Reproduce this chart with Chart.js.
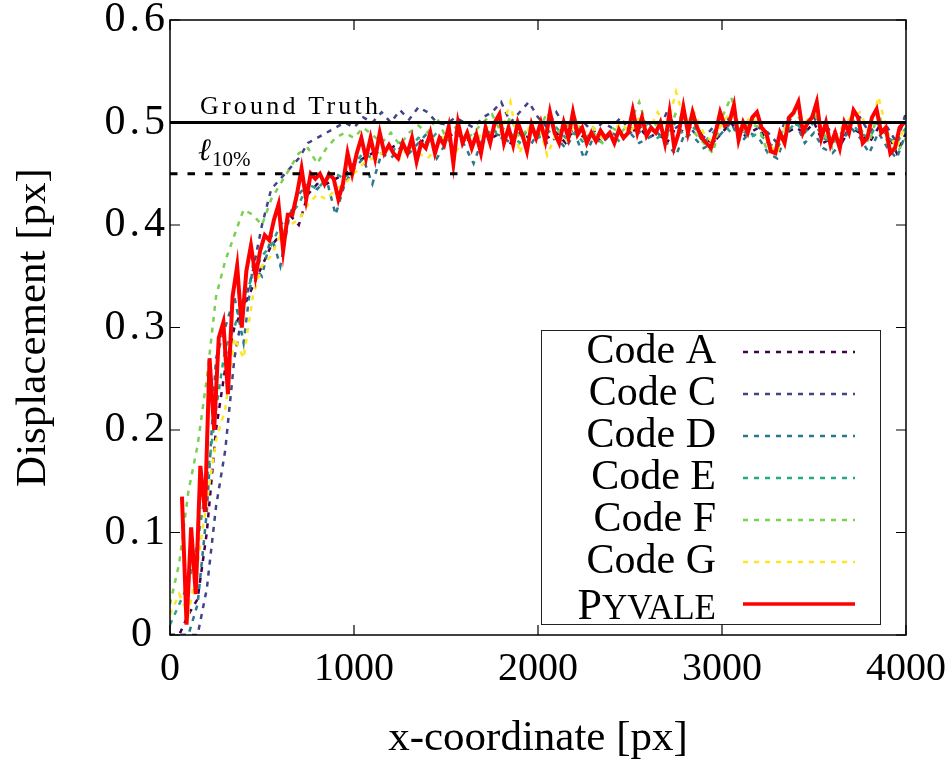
<!DOCTYPE html>
<html><head><meta charset="utf-8">
<script src="https://cdn.jsdelivr.net/npm/chart.js@4/dist/chart.umd.min.js"></script>
<style>html,body{margin:0;padding:0;background:#fff}</style>
</head><body>
<canvas id="c" width="948" height="762"></canvas>
<script>
// ---- tick values ----
const xTicks = [0, 1000, 2000, 3000, 4000];
const yTicks = [0, 0.1, 0.2, 0.3, 0.4, 0.5, 0.6];

// ---- reference levels ----
const groundTruth = 0.5;
const l10 = 0.45;

// ---- series names ----
const names = ['Code A', 'Code C', 'Code D', 'Code E', 'Code F', 'Code G', 'Pyvale'];

// ---- x sampling of the codes (0..4000, every 50 px) ----
const codeX = [
  0,50,100,150,200,250,300,350,400,450,
  500,550,600,650,700,750,800,850,900,950,
  1000,1050,1100,1150,1200,1250,1300,1350,1400,1450,
  1500,1550,1600,1650,1700,1750,1800,1850,1900,1950,
  2000,2050,2100,2150,2200,2250,2300,2350,2400,2450,
  2500,2550,2600,2650,2700,2750,2800,2850,2900,2950,
  3000,3050,3100,3150,3200,3250,3300,3350,3400,3450,
  3500,3550,3600,3650,3700,3750,3800,3850,3900,3950,
  4000];

const codeA = [
  0,0,0.02,0.035,0.1,0.2,0.26,0.3,0.32,0.34,
  0.36,0.38,0.39,0.41,0.4,0.43,0.44,0.44,0.445,0.45,
  0.46,0.465,0.47,0.47,0.475,0.48,0.475,0.48,0.485,0.48,
  0.485,0.49,0.485,0.48,0.49,0.485,0.49,0.48,0.49,0.485,
  0.49,0.485,0.49,0.48,0.495,0.485,0.49,0.48,0.49,0.485,
  0.49,0.495,0.485,0.49,0.48,0.495,0.49,0.5,0.485,0.48,
  0.49,0.5,0.485,0.49,0.495,0.48,0.475,0.49,0.495,0.49,
  0.5,0.48,0.485,0.48,0.495,0.49,0.48,0.495,0.49,0.47,
  0.49];
const codeC = [
  0,0,0,0,0.045,0.125,0.18,0.27,0.32,0.355,
  0.4,0.435,0.445,0.455,0.465,0.48,0.485,0.49,0.495,0.5,
  0.495,0.505,0.5,0.51,0.5,0.512,0.503,0.515,0.51,0.5,
  0.498,0.505,0.5,0.495,0.505,0.51,0.52,0.5,0.51,0.52,
  0.505,0.495,0.51,0.495,0.49,0.5,0.49,0.5,0.495,0.505,
  0.49,0.495,0.5,0.49,0.51,0.495,0.5,0.49,0.485,0.495,
  0.5,0.505,0.49,0.5,0.495,0.49,0.48,0.505,0.5,0.495,
  0.505,0.49,0.495,0.48,0.5,0.505,0.49,0.5,0.495,0.48,
  0.51];
const codeD = [
  0,0,0,0.03,0.12,0.27,0.3,0.33,0.285,0.36,
  0.35,0.39,0.36,0.41,0.43,0.44,0.435,0.445,0.41,0.44,
  0.455,0.465,0.44,0.47,0.465,0.475,0.47,0.48,0.49,0.465,
  0.48,0.49,0.478,0.46,0.485,0.49,0.487,0.48,0.49,0.475,
  0.49,0.48,0.485,0.475,0.49,0.465,0.485,0.48,0.49,0.485,
  0.49,0.48,0.485,0.49,0.48,0.468,0.49,0.485,0.475,0.48,
  0.49,0.5,0.48,0.49,0.485,0.47,0.465,0.49,0.5,0.48,
  0.49,0.475,0.47,0.48,0.495,0.485,0.47,0.49,0.475,0.465,
  0.49];
const codeE = [
  0.01,0.03,0.05,0.09,0.15,0.22,0.28,0.3,0.33,0.35,
  0.37,0.38,0.4,0.41,0.42,0.44,0.435,0.445,0.45,0.445,
  0.46,0.47,0.465,0.475,0.47,0.48,0.475,0.485,0.48,0.49,
  0.48,0.49,0.485,0.49,0.48,0.495,0.485,0.49,0.48,0.495,
  0.485,0.49,0.495,0.485,0.49,0.48,0.495,0.485,0.49,0.48,
  0.495,0.49,0.5,0.485,0.49,0.5,0.485,0.495,0.48,0.49,
  0.5,0.49,0.495,0.485,0.49,0.48,0.475,0.49,0.5,0.49,
  0.5,0.485,0.48,0.49,0.5,0.49,0.485,0.5,0.485,0.48,
  0.495];
const codeF = [
  0.03,0.07,0.14,0.185,0.25,0.33,0.365,0.39,0.415,0.41,
  0.4,0.425,0.44,0.455,0.47,0.475,0.46,0.475,0.485,0.49,
  0.485,0.495,0.488,0.48,0.49,0.478,0.49,0.497,0.49,0.505,
  0.485,0.495,0.482,0.49,0.5,0.508,0.49,0.505,0.485,0.495,
  0.49,0.51,0.49,0.495,0.505,0.485,0.49,0.48,0.495,0.49,
  0.5,0.52,0.49,0.5,0.485,0.51,0.5,0.49,0.48,0.47,
  0.505,0.525,0.49,0.5,0.495,0.47,0.48,0.5,0.51,0.495,
  0.51,0.49,0.475,0.49,0.505,0.495,0.48,0.51,0.48,0.47,
  0.485];
const codeG = [
  0.02,0.04,0.02,0.07,0.13,0.19,0.22,0.29,0.27,0.33,
  0.36,0.37,0.39,0.4,0.405,0.42,0.43,0.425,0.435,0.44,
  0.45,0.46,0.465,0.47,0.475,0.465,0.478,0.47,0.465,0.475,
  0.49,0.47,0.485,0.48,0.49,0.5,0.49,0.52,0.47,0.495,
  0.5,0.468,0.49,0.48,0.5,0.49,0.495,0.485,0.49,0.5,
  0.49,0.505,0.49,0.51,0.495,0.53,0.5,0.51,0.49,0.48,
  0.5,0.51,0.49,0.505,0.5,0.48,0.47,0.5,0.515,0.5,
  0.51,0.49,0.48,0.495,0.505,0.51,0.49,0.525,0.49,0.475,
  0.5];

// ---- Pyvale: x from 65 every 25 px ----
const pyvaleXStart = 65, pyvaleXStep = 25;
const pyvale = [
  0.135,0.01,0.105,0.04,0.165,0.12,0.27,0.2,0.29,0.305,
  0.235,0.33,0.36,0.3,0.355,0.38,0.35,0.375,0.39,0.385,
  0.405,0.42,0.375,0.41,0.41,0.43,0.455,0.425,0.45,0.445,
  0.45,0.44,0.45,0.445,0.425,0.44,0.47,0.45,0.47,0.485,
  0.465,0.485,0.465,0.49,0.47,0.478,0.47,0.465,0.48,0.47,
  0.485,0.462,0.48,0.475,0.49,0.47,0.485,0.478,0.496,0.46,
  0.5,0.48,0.49,0.475,0.488,0.47,0.495,0.48,0.5,0.508,
  0.48,0.495,0.478,0.5,0.488,0.472,0.498,0.485,0.5,0.482,
  0.51,0.49,0.48,0.5,0.485,0.51,0.488,0.495,0.48,0.49,
  0.482,0.492,0.485,0.49,0.48,0.493,0.485,0.49,0.512,0.49,
  0.505,0.487,0.495,0.49,0.5,0.48,0.51,0.476,0.49,0.515,
  0.49,0.51,0.495,0.485,0.48,0.475,0.49,0.51,0.497,0.5,
  0.517,0.483,0.5,0.49,0.505,0.51,0.495,0.49,0.472,0.47,
  0.49,0.48,0.505,0.51,0.52,0.49,0.5,0.505,0.52,0.485,
  0.5,0.478,0.49,0.475,0.5,0.49,0.512,0.505,0.48,0.485,
  0.505,0.513,0.49,0.495,0.47,0.475,0.495,0.5];

// ---- colours ----
const colors = ['#440154', '#414487', '#2a788e', '#22a884', '#7ad151', '#fde725', '#ff0000'];

const FONT = "'Liberation Serif', 'Times New Roman', serif";
const toPts = (xs, ys) => ys.map((v, i) => ({x: xs[i], y: v}));
const pyX = pyvale.map((_, i) => pyvaleXStart + i * pyvaleXStep);
const codeSeries = [codeA, codeC, codeD, codeE, codeF, codeG];

const datasets = [];
codeSeries.forEach((s, k) => {
  datasets.push({
    label: names[k], data: toPts(codeX, s), borderColor: colors[k],
    borderWidth: 2.5, borderDash: [5, 6], pointRadius: 0, fill: false,
    order: 8 - k
  });
});
datasets.push({label: names[6], data: toPts(pyX, pyvale), borderColor: colors[6],
  borderWidth: 4, pointRadius: 0, fill: false, order: 2});
datasets.push({label: 'Ground Truth', data: [{x: 0, y: groundTruth}, {x: 4000, y: groundTruth}],
  borderColor: '#000', borderWidth: 3.2, pointRadius: 0, order: 0});
datasets.push({label: 'l10', data: [{x: 0, y: l10}, {x: 4000, y: l10}],
  borderColor: '#000', borderWidth: 3.2, borderDash: [7.5, 10], pointRadius: 0, order: 1});

const deco = {
  id: 'deco',
  afterDraw(chart) {
    const {ctx, chartArea: a, scales: {x, y}} = chart;
    ctx.save();
    // frame
    ctx.strokeStyle = '#000';
    ctx.lineWidth = 1.5;
    ctx.strokeRect(a.left, a.top, a.right - a.left, a.bottom - a.top);
    // inward ticks (mirrored)
    const tl = 10;
    ctx.lineWidth = 1.2;
    ctx.beginPath();
    xTicks.forEach(v => {
      const p = x.getPixelForValue(v);
      ctx.moveTo(p, a.bottom); ctx.lineTo(p, a.bottom - tl);
      ctx.moveTo(p, a.top); ctx.lineTo(p, a.top + tl);
    });
    yTicks.forEach(v => {
      const p = y.getPixelForValue(v);
      ctx.moveTo(a.left, p); ctx.lineTo(a.left + tl, p);
      ctx.moveTo(a.right, p); ctx.lineTo(a.right - tl, p);
    });
    ctx.stroke();

    // y tick labels
    ctx.fillStyle = '#000';
    ctx.font = '42px ' + FONT;
    ctx.textAlign = 'right';
    ctx.textBaseline = 'middle';
    yTicks.forEach(v => {
      const p = y.getPixelForValue(v);
      if (v === 0) {
        ctx.letterSpacing = '0px';
        ctx.fillText('0', 152, p);
      } else {
        ctx.letterSpacing = '4px';
        ctx.fillText(v.toFixed(1), 169, p);
      }
    });
    ctx.letterSpacing = '0px';

    // annotations
    ctx.textAlign = 'left';
    ctx.textBaseline = 'alphabetic';
    ctx.font = '26px ' + FONT;
    ctx.letterSpacing = '3.2px';
    ctx.fillText('Ground Truth', a.left + 30, y.getPixelForValue(groundTruth) - 9);
    ctx.letterSpacing = '0px';
    const ly = y.getPixelForValue(l10) - 14;
    ctx.font = 'italic 31px ' + FONT;
    ctx.fillText('\u2113', a.left + 28, ly);
    const lw = ctx.measureText('\u2113').width;
    ctx.font = '21px ' + FONT;
    ctx.fillText('10%', a.left + 29 + lw, ly + 6);

    // legend
    const bx = 541, by = 330, bw = 339, bh = 294;
    ctx.fillStyle = '#fff';
    ctx.fillRect(bx, by, bw, bh);
    ctx.strokeStyle = '#222';
    ctx.lineWidth = 1;
    ctx.strokeRect(bx + 0.5, by + 0.5, bw, bh);
    const textRight = 716, s0 = 743, s1 = 855;
    for (let k = 0; k < 7; k++) {
      const ry = 352 + k * 42;
      ctx.fillStyle = '#000';
      ctx.textBaseline = 'middle';
      if (k < 6) {
        ctx.font = '42px ' + FONT;
        ctx.textAlign = 'right';
        ctx.fillText(names[k], textRight, ry);
      } else {
        ctx.textAlign = 'left';
        ctx.font = '44px ' + FONT;
        const w1 = ctx.measureText('P').width;
        ctx.font = '35px ' + FONT;
        const w2 = ctx.measureText('YVALE').width;
        const start = textRight - w1 - w2;
        ctx.font = '44px ' + FONT;
        ctx.textBaseline = 'alphabetic';
        ctx.fillText('P', start, ry + 15);
        ctx.font = '35px ' + FONT;
        ctx.fillText('YVALE', start + w1, ry + 15);
      }
      ctx.beginPath();
      ctx.strokeStyle = colors[k];
      if (k < 6) { ctx.lineWidth = 2.5; ctx.setLineDash([5, 6]); }
      else { ctx.lineWidth = 3.5; ctx.setLineDash([]); }
      ctx.moveTo(s0, ry); ctx.lineTo(s1, ry);
      ctx.stroke();
      ctx.setLineDash([]);
    }

    // axis titles
    ctx.fillStyle = '#000';
    ctx.font = '43px ' + FONT;
    ctx.textAlign = 'center';
    ctx.textBaseline = 'alphabetic';
    ctx.fillText('x-coordinate [px]', (a.left + a.right) / 2, 750);
    ctx.save();
    ctx.translate(45, (a.top + a.bottom) / 2);
    ctx.rotate(-Math.PI / 2);
    ctx.fillText('Displacement [px]', 0, 0);
    ctx.restore();
    ctx.restore();
  }
};

Chart.defaults.font.family = FONT;
Chart.defaults.color = '#000';

new Chart(document.getElementById('c').getContext('2d'), {
  type: 'line',
  data: {datasets},
  options: {
    responsive: false, animation: false, devicePixelRatio: 1,
    layout: {padding: {top: 20, right: 42, left: 0, bottom: 0}},
    plugins: {legend: {display: false}, tooltip: {enabled: false}},
    elements: {point: {radius: 0}, line: {tension: 0}},
    scales: {
      x: {
        type: 'linear', min: 0, max: 4000,
        afterBuildTicks: s => { s.ticks = xTicks.map(v => ({value: v})); },
        afterFit: s => { s.height = 127; s.paddingLeft = 0; s.paddingRight = 0; },
        grid: {display: false, drawTicks: false}, border: {display: false},
        ticks: {padding: 10, font: {size: 40}, maxRotation: 0, autoSkip: false, callback: v => String(v)}
      },
      y: {
        type: 'linear', min: 0, max: 0.6,
        afterBuildTicks: s => { s.ticks = yTicks.map(v => ({value: v})); },
        afterFit: s => { s.width = 170; s.paddingTop = 0; s.paddingBottom = 0; },
        grid: {display: false, drawTicks: false}, border: {display: false},
        ticks: {display: false}
      }
    }
  },
  plugins: [deco]
});
</script>
</body></html>
